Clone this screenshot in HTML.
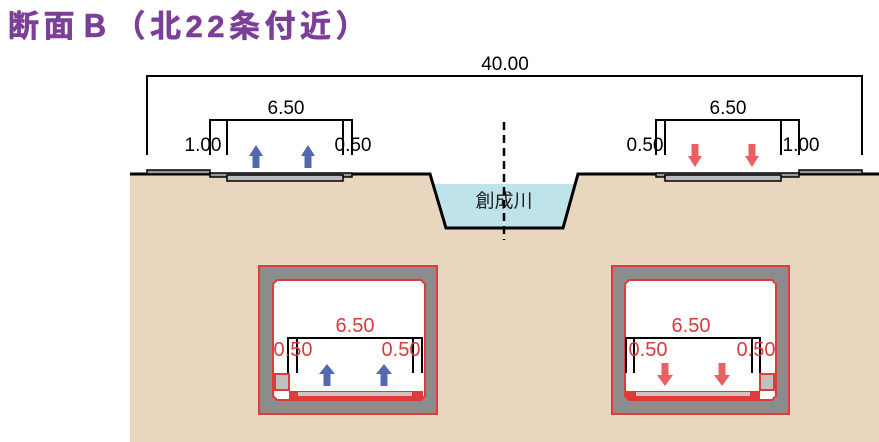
<!DOCTYPE html>
<html><head><meta charset="utf-8"><style>
html,body{margin:0;padding:0;background:#fff;}
svg{display:block;}
text{font-family:"Liberation Sans","Noto Sans CJK JP",sans-serif;}
</style></head><body>
<svg width="879" height="442" viewBox="0 0 879 442" xmlns="http://www.w3.org/2000/svg">
<text x="8" y="37" font-size="31" font-weight="bold" fill="#7b3f98" letter-spacing="4.5" stroke="#7b3f98" stroke-width="0.6">断面Ｂ（北22条付近）</text>

<!-- ground -->
<path d="M130,174 L430,174 L446,228 L563,228 L578,174 L879,174 L879,442 L130,442 Z" fill="#e8d6bf"/>
<path d="M434,184 L574,184 L563,228 L446,228 Z" fill="#bfe3ea"/>
<polyline points="130,174 430,174 446,228 563,228 578,174 879,174" fill="none" stroke="#000" stroke-width="3"/>
<text x="504" y="207" font-size="19" text-anchor="middle" fill="#222">創成川</text>
<line x1="504" y1="122" x2="504" y2="240" stroke="#000" stroke-width="2.5" stroke-dasharray="8,5"/>

<!-- 40.00 dim -->
<polyline points="147,155 147,76 862,76 862,155" fill="none" stroke="#000" stroke-width="2"/>
<text x="505" y="70" font-size="19" text-anchor="middle">40.00</text>

<!-- left sidewalk -->
<rect x="147" y="170" width="63" height="4" fill="#999" stroke="#000" stroke-width="1.5"/>
<rect x="210" y="173" width="142" height="4" fill="#999" stroke="#000" stroke-width="1.5"/>
<rect x="227" y="175" width="116" height="6" fill="#bcbcbc" stroke="#000" stroke-width="1.5"/>
<polyline points="210,155 210,120 352,120 352,155" fill="none" stroke="#000" stroke-width="2"/>
<line x1="227" y1="120" x2="227" y2="155" stroke="#000" stroke-width="2"/>
<line x1="343" y1="120" x2="343" y2="155" stroke="#000" stroke-width="2"/>
<text x="286" y="114" font-size="19" text-anchor="middle">6.50</text>
<text x="203" y="151" font-size="19" text-anchor="middle">1.00</text>
<text x="353" y="151" font-size="19" text-anchor="middle">0.50</text>
<g fill="#5468b0">
<path d="M249,156 L256,145 L263,156 L259.5,156 L259.5,168 L252.5,168 L252.5,156 Z"/>
<path d="M301,156 L308,145 L315,156 L311.5,156 L311.5,168 L304.5,168 L304.5,156 Z"/>
</g>

<!-- right sidewalk -->
<rect x="799" y="170" width="63" height="4" fill="#999" stroke="#000" stroke-width="1.5"/>
<rect x="656" y="173" width="143" height="4" fill="#999" stroke="#000" stroke-width="1.5"/>
<rect x="665" y="175" width="116" height="6" fill="#bcbcbc" stroke="#000" stroke-width="1.5"/>
<polyline points="656,155 656,120 799,120 799,155" fill="none" stroke="#000" stroke-width="2"/>
<line x1="665" y1="120" x2="665" y2="155" stroke="#000" stroke-width="2"/>
<line x1="781" y1="120" x2="781" y2="155" stroke="#000" stroke-width="2"/>
<text x="728" y="114" font-size="19" text-anchor="middle">6.50</text>
<text x="645" y="151" font-size="19" text-anchor="middle">0.50</text>
<text x="801" y="151" font-size="19" text-anchor="middle">1.00</text>
<g fill="#e86060">
<path d="M688,156 L695,167 L702,156 L698.5,156 L698.5,144 L691.5,144 L691.5,156 Z"/>
<path d="M745,156 L752,167 L759,156 L755.5,156 L755.5,144 L748.5,144 L748.5,156 Z"/>
</g>

<!-- left box -->
<rect x="259" y="266" width="178" height="148" fill="#8c8c8c" stroke="#e03a3a" stroke-width="2"/>
<path d="M277,280 L421,280 L425,284 L425,396 L421,400 L277,400 L273,396 L273,284 Z" fill="#fff" stroke="#e03a3a" stroke-width="2"/>
<rect x="275" y="374" width="14" height="16" fill="#c0c0c0" stroke="#e03a3a" stroke-width="2"/>
<rect x="289" y="391" width="134" height="8" fill="#e03a3a"/>
<rect x="298" y="392" width="114" height="4" fill="#cfc4c4"/>
<polyline points="288,373 288,338 422,338 422,373" fill="none" stroke="#000" stroke-width="2"/>
<line x1="297" y1="338" x2="297" y2="373" stroke="#000" stroke-width="2"/>
<line x1="413" y1="338" x2="413" y2="373" stroke="#000" stroke-width="2"/>
<text x="355" y="332" font-size="20" text-anchor="middle" fill="#d93a3a">6.50</text>
<text x="293" y="356" font-size="20" text-anchor="middle" fill="#d93a3a">0.50</text>
<text x="401" y="356" font-size="20" text-anchor="middle" fill="#d93a3a">0.50</text>
<g fill="#5468b0">
<path d="M319,374 L327,364 L335,374 L330.5,374 L330.5,386 L323.5,386 L323.5,374 Z"/>
<path d="M376,374 L384,364 L392,374 L387.5,374 L387.5,386 L380.5,386 L380.5,374 Z"/>
</g>

<!-- right box -->
<rect x="612" y="266" width="177" height="148" fill="#8c8c8c" stroke="#e03a3a" stroke-width="2"/>
<path d="M629,280 L772,280 L776,284 L776,396 L772,400 L629,400 L625,396 L625,284 Z" fill="#fff" stroke="#e03a3a" stroke-width="2"/>
<rect x="760" y="374" width="14" height="16" fill="#c0c0c0" stroke="#e03a3a" stroke-width="2"/>
<rect x="626" y="391" width="134" height="8" fill="#e03a3a"/>
<rect x="636" y="392" width="114" height="4" fill="#cfc4c4"/>
<polyline points="626,373 626,338 760,338 760,373" fill="none" stroke="#000" stroke-width="2"/>
<line x1="634" y1="338" x2="634" y2="373" stroke="#000" stroke-width="2"/>
<line x1="752" y1="338" x2="752" y2="373" stroke="#000" stroke-width="2"/>
<text x="691" y="332" font-size="20" text-anchor="middle" fill="#d93a3a">6.50</text>
<text x="648" y="356" font-size="20" text-anchor="middle" fill="#d93a3a">0.50</text>
<text x="756" y="356" font-size="20" text-anchor="middle" fill="#d93a3a">0.50</text>
<g fill="#e86060">
<path d="M657,375 L665,386 L673,375 L668.5,375 L668.5,363 L661.5,363 L661.5,375 Z"/>
<path d="M714,375 L722,386 L730,375 L725.5,375 L725.5,363 L718.5,363 L718.5,375 Z"/>
</g>
</svg>
</body></html>
